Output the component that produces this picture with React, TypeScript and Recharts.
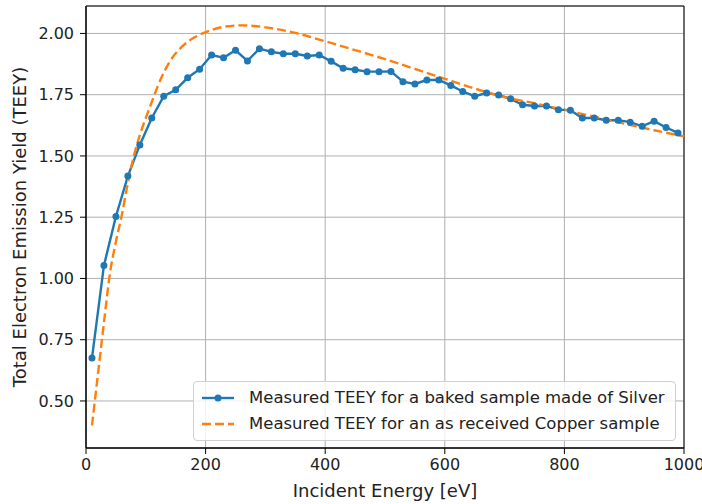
import { LineChart, Line, XAxis, YAxis, CartesianGrid, Legend, ReferenceArea } from 'recharts';

// measured silver sample (every 20 eV)
const silverEnergy = [
  10, 30, 50, 70, 90, 110, 130, 150, 170, 190,
  210, 230, 250, 270, 290, 310, 330, 350, 370, 390,
  410, 430, 450, 470, 490, 510, 530, 550, 570, 590,
  610, 630, 650, 670, 690, 710, 730, 750, 770, 790,
  810, 830, 850, 870, 890, 910, 930, 950, 970, 990,
];
const silverTeey = [
  0.675, 1.053, 1.253, 1.418, 1.545, 1.655, 1.744, 1.77, 1.819, 1.854,
  1.912, 1.901, 1.931, 1.888, 1.938, 1.925, 1.917, 1.917, 1.908, 1.912,
  1.886, 1.858, 1.852, 1.844, 1.844, 1.845, 1.803, 1.794, 1.81, 1.81,
  1.788, 1.763, 1.744, 1.757, 1.749, 1.733, 1.709, 1.704, 1.704, 1.689,
  1.687, 1.655, 1.655, 1.646, 1.646, 1.638, 1.621, 1.642, 1.616, 1.594,
];

// copper curve
const copperEnergy = [
  10, 20, 30, 40, 50, 60, 70, 80, 90, 100, 110, 120, 140, 160, 180, 200,
  230, 260, 300, 350, 400, 450, 500, 550, 600, 650, 700, 750, 800, 850, 900, 950, 1000,
];
const copperTeey = [
  0.4, 0.61, 0.82, 1.02, 1.15, 1.26, 1.39, 1.5, 1.585, 1.655, 1.72, 1.785, 1.885, 1.945, 1.982, 2.005,
  2.027, 2.033, 2.025, 2.002, 1.968, 1.932, 1.895, 1.855, 1.815, 1.775, 1.74, 1.715, 1.688, 1.66, 1.632, 1.605, 1.58,
];

const xTicks = [0, 200, 400, 600, 800, 1000];
const yTicks = [0.5, 0.75, 1.0, 1.25, 1.5, 1.75, 2.0];

const silverLabel = 'Measured TEEY for a baked sample made of Silver';
const copperLabel = 'Measured TEEY for an as received Copper sample';

const silverData = silverEnergy.map((e, i) => ({ e, v: silverTeey[i] }));
const copperData = copperEnergy.map((e, i) => ({ e, v: copperTeey[i] }));

const BLUE = '#1f77b4';
const ORANGE = '#ff7f0e';
const Y_MIN = 0.308;
const Y_MAX = 2.112;

const tickStyle = { fontSize: 16, fill: '#222', fontFamily: 'DejaVu Sans' };
const labelStyle = { fontSize: 18, fill: '#222', fontFamily: 'DejaVu Sans' };

function LegendBox() {
  const row = { display: 'flex', alignItems: 'center', height: 26 };
  return (
    <div
      style={{
        boxSizing: 'border-box',
        width: 483,
        height: 60,
        border: '1px solid #d0d0d0',
        borderRadius: 4,
        background: 'rgba(255,255,255,0.8)',
        fontFamily: 'DejaVu Sans',
        fontSize: 16.5,
        color: '#222',
        padding: '3px 0 0 8px',
        lineHeight: 1,
      }}
    >
      <div style={row}>
        <svg width={47} height={12}>
          <line x1={0} y1={6} x2={32} y2={6} stroke={BLUE} strokeWidth={2.4} />
          <circle cx={16} cy={6} r={3.5} fill={BLUE} />
        </svg>
        <span>{silverLabel}</span>
      </div>
      <div style={row}>
        <svg width={47} height={12}>
          <line x1={0} y1={6} x2={32} y2={6} stroke={ORANGE} strokeWidth={2.4} strokeDasharray="9 4" />
        </svg>
        <span>{copperLabel}</span>
      </div>
    </div>
  );
}

export default function App() {
  return (
    <div style={{ position: 'absolute', left: 0, top: 0, background: '#fff' }}>
      <LineChart
        width={702}
        height={504}
        margin={{ top: 6, right: 18, bottom: 0, left: 0 }}
        style={{ fontFamily: 'DejaVu Sans' }}
      >
        <CartesianGrid stroke="#b0b0b0" strokeWidth={1} />
        <XAxis
          dataKey="e"
          type="number"
          domain={[0, 1000]}
          ticks={xTicks}
          allowDuplicatedCategory={false}
          height={56}
          tick={tickStyle}
          tickSize={6}
          tickMargin={5}
          stroke="#000"
          label={{ value: 'Incident Energy [eV]', position: 'insideBottom', offset: 7, style: labelStyle }}
        />
        <YAxis
          dataKey="v"
          type="number"
          domain={[Y_MIN, Y_MAX]}
          ticks={yTicks}
          allowDataOverflow
          width={86}
          tick={tickStyle}
          tickSize={6}
          tickMargin={6}
          tickFormatter={(v: number) => v.toFixed(2)}
          stroke="#000"
          label={{
            value: 'Total Electron Emission Yield (TEEY)',
            angle: -90,
            position: 'insideLeft',
            offset: 20,
            style: { ...labelStyle, textAnchor: 'middle' },
          }}
        />
        <ReferenceArea x1={0} x2={1000} y1={Y_MIN} y2={Y_MAX} fill="none" stroke="#000" strokeWidth={1} ifOverflow="visible" />
        <Line
          data={silverData}
          dataKey="v"
          name={silverLabel}
          stroke={BLUE}
          strokeWidth={2.4}
          dot={{ r: 3.5, fill: BLUE, stroke: BLUE, strokeWidth: 0 }}
          activeDot={false}
          isAnimationActive={false}
        />
        <Line
          data={copperData}
          dataKey="v"
          name={copperLabel}
          type="monotone"
          stroke={ORANGE}
          strokeWidth={2.4}
          strokeDasharray="9 4"
          dot={false}
          activeDot={false}
          isAnimationActive={false}
        />
        <Legend
          layout="vertical"
          align="center"
          verticalAlign="middle"
          content={() => <LegendBox />}
          wrapperStyle={{ left: 193, top: 381, width: 483, height: 60 }}
        />
      </LineChart>
    </div>
  );
}
